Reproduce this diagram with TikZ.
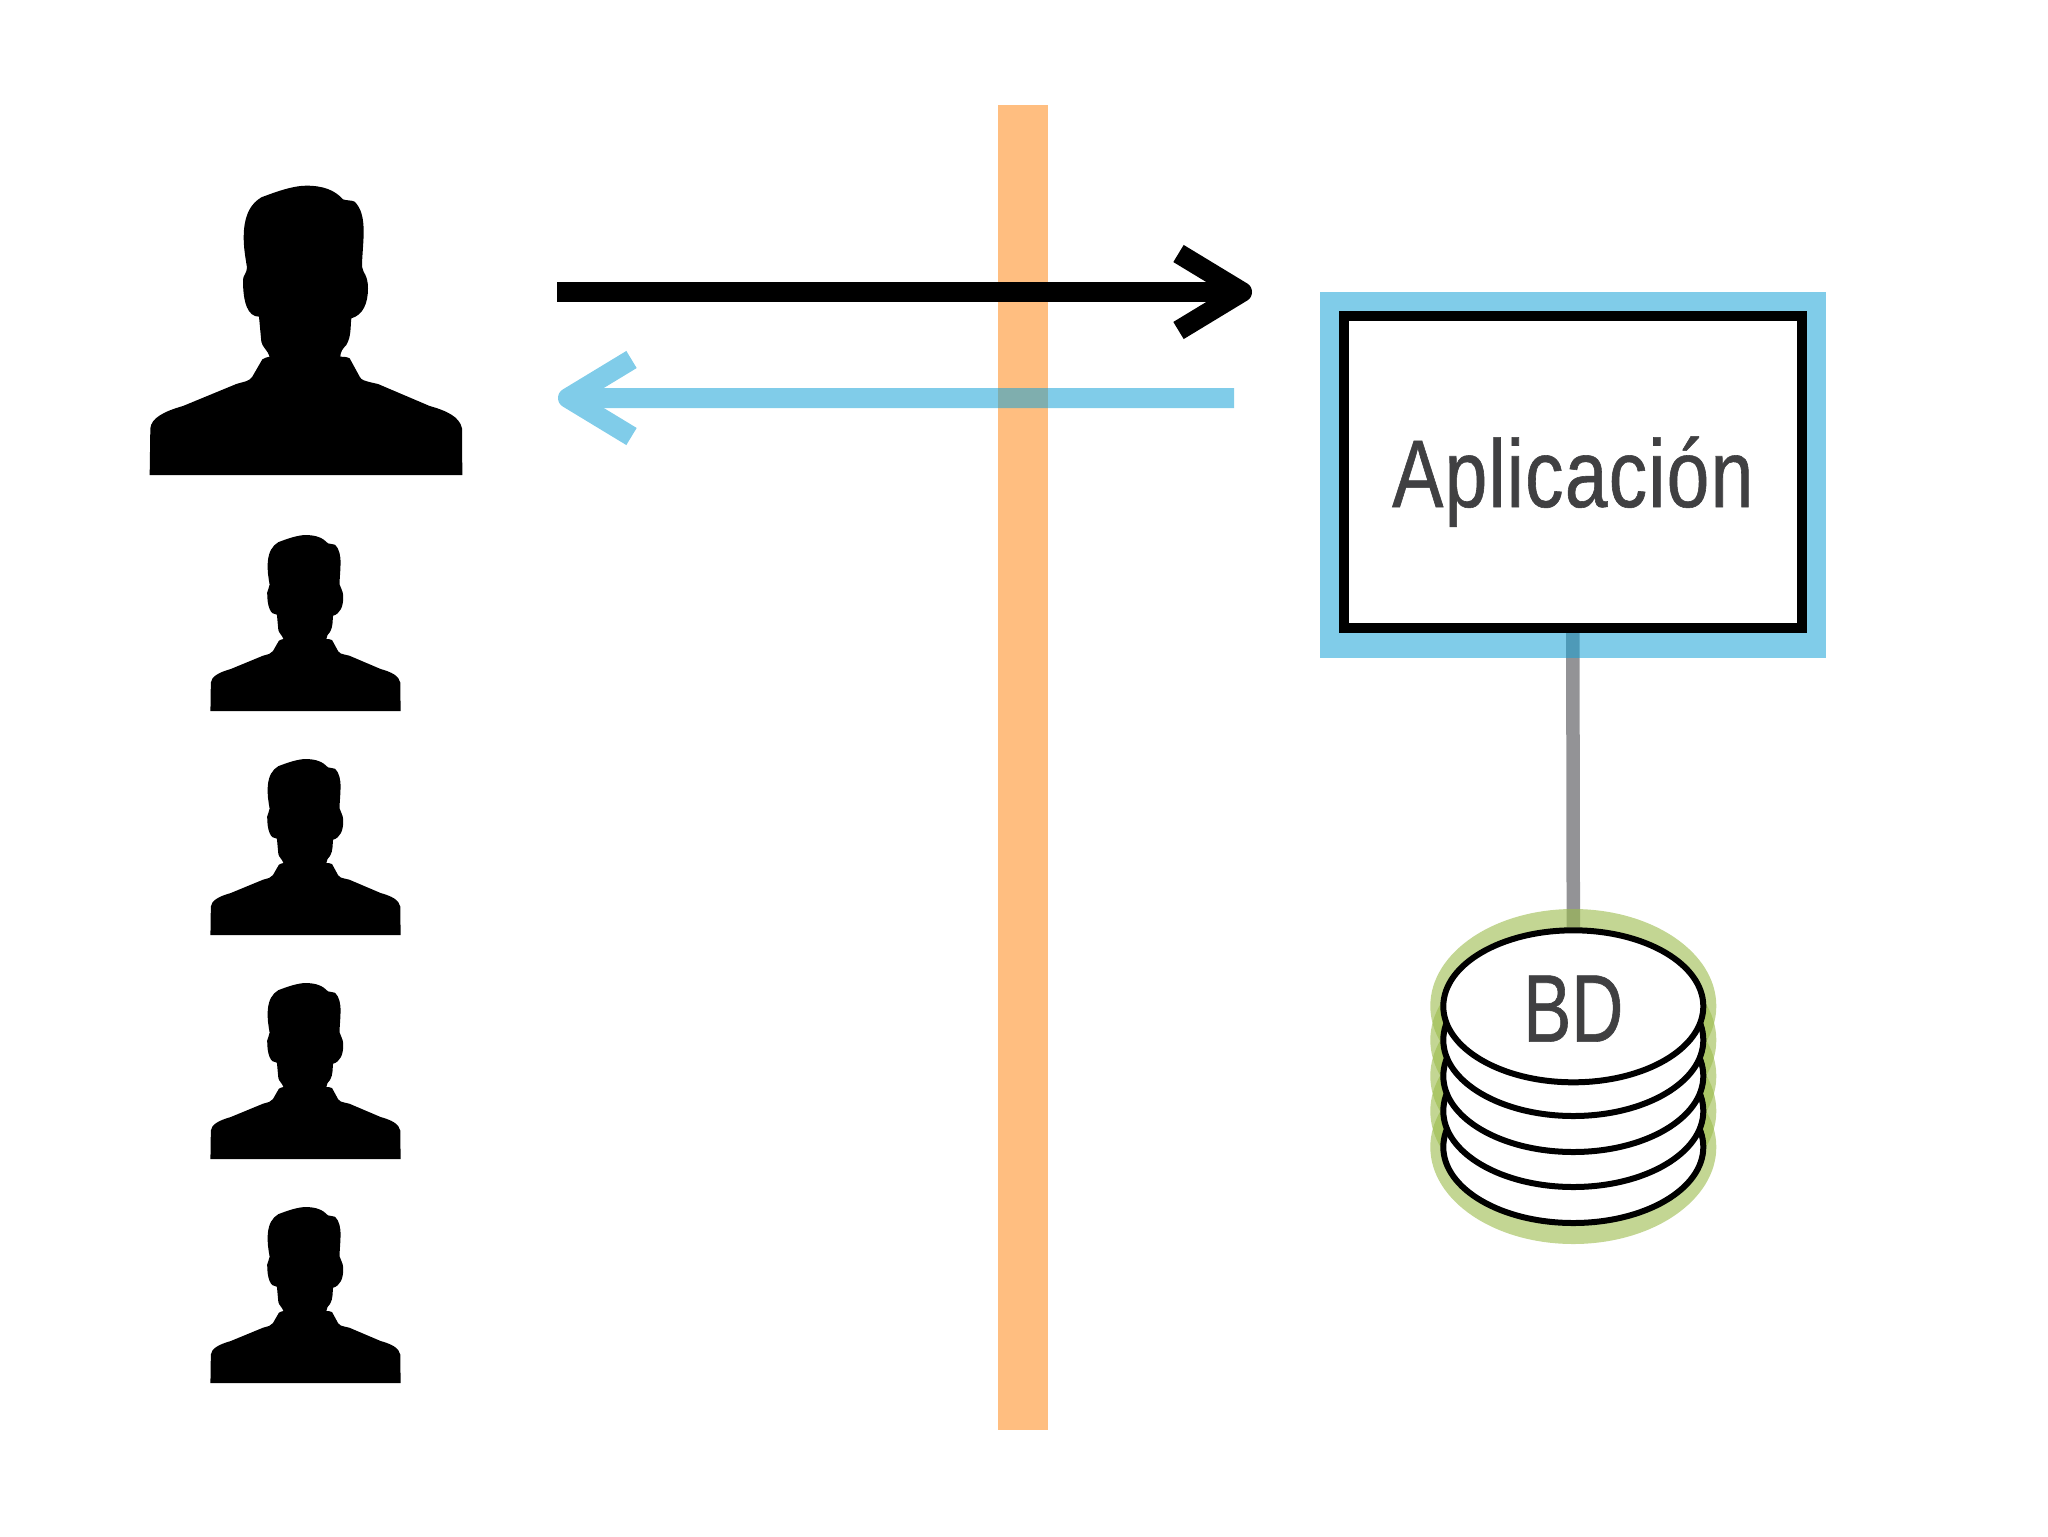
\documentclass[tikz,border=0pt]{standalone}
\usepackage{fontspec}
\usepackage{tikz}
\usetikzlibrary{arrows.meta,backgrounds,shapes.geometric}
\newfontfamily\labelfont[FakeStretch=0.80, FakeBold=0.6, LetterSpace=1.3]{Liberation Sans}
\newfontfamily\diskfont[FakeStretch=0.75, FakeBold=0.6]{Liberation Sans}
\definecolor{barorange}{HTML}{FFBE80}
\definecolor{glowblue}{HTML}{14A1D6}
\definecolor{glowgreen}{HTML}{9BBB4B}
\definecolor{linkgray}{HTML}{939396}
\definecolor{labelgray}{HTML}{404042}
\tikzset{
    person/.pic = {
        \fill[black, shift={(-529,-945)}] (60,945) -- (62,805)
            .. controls (65,775) and (100,755) .. (160,738) -- (320,672)
            .. controls (345,664) and (358,665) .. (368,650) -- (398,598)
            .. controls (402,594) and (412,592) .. (420,590)
            .. controls (415,572) and (397,560) .. (395,545) -- (388,470)
            .. controls (355,470) and (340,430) .. (340,360)
            .. controls (340,345) and (352,340) .. (352,322)
            .. controls (345,280) and (340,250) .. (343,210)
            .. controls (347,160) and (365,130) .. (395,112)
            .. controls (440,95) and (490,77) .. (530,77)
            .. controls (580,77) and (615,90) .. (640,118)
            .. controls (650,122) and (665,120) .. (675,125)
            .. controls (695,145) and (702,175) .. (702,215)
            .. controls (702,250) and (697,290) .. (697,320)
            .. controls (700,340) and (715,345) .. (715,385)
            .. controls (715,430) and (700,465) .. (665,475)
            .. controls (662,500) and (665,530) .. (650,555)
            .. controls (640,565) and (632,575) .. (632,590)
            .. controls (640,590) and (650,590) .. (660,595) -- (690,650)
            .. controls (695,660) and (700,662) .. (745,672) -- (900,738)
            .. controls (950,752) and (990,770) .. (997,805)
            -- (998,945) -- cycle;
    }
}
\begin{document}
\begin{tikzpicture}[x=0.5pt, y=-0.5pt,
            every node/.style = {align=center, inner sep=0pt, font=\labelfont\fontsize{48pt}{48pt}\selectfont,
                                 text=labelgray, text height=35.3pt, text depth=0pt},
            bar/.style = {rectangle, fill=barorange, minimum width=25pt, minimum height=662.5pt},
            glow/.style = {rectangle, fill=glowblue, opacity=0.54, minimum width=253pt, minimum height=182.7pt},
            box/.style = {rectangle, draw=black, fill=white, line width=5pt, minimum width=229pt, minimum height=156pt},
            halo/.style = {ellipse, fill=glowgreen, opacity=0.6, minimum width=143pt, minimum height=97pt},
            disk/.style = {ellipse, draw=black, fill=white, line width=3pt, minimum width=130pt, minimum height=76pt},
            link/.style = {draw=linkgray, line width=6.75pt},
            flow/.style = {line width=10pt, -{Straight Barb[length=31.75pt, width=38.5pt, line join=round, line cap=butt]}}]
    \useasboundingbox (0,0) rectangle (2048,1536);
    \node[bar] (barrier) at (1022.5,767.5) {};
    \pic at (306,475) [scale=1/3] {person};
    \foreach \y in {711,935,1159,1383}
        \pic at (305.5,\y) [scale=0.2027] {person};
    \node[box] (app) at (1572.8,471.7) {Aplicación};
    \foreach \i/\y in {4/1147,3/1111,2/1076,1/1040}
        \node[disk] (disk\i) at (1573.3,\y) {};
    \node[disk, font=\diskfont\fontsize{48pt}{48pt}\selectfont] (bd) at (1573.3,1006.3) {BD};
    \begin{scope}[on background layer]
        \draw[link] (app.south) -- (bd.north);
        \node[glow] (appglow) at (1573,475) {};
        \foreach \i/\y in {4/1147,3/1111,2/1076,1/1040,0/1006}
            \node[halo] (halo\i) at (1573.3,\y) {};
    \end{scope}
    \coordinate (reqstart) at (557,292);
    \coordinate (reqend) at (1252,292);
    \coordinate (respstart) at (1234,398);
    \coordinate (respend) at (558,398);
    \draw[flow, black] (reqstart) -- (reqend);
    \begin{scope}[transparency group, opacity=0.54]
        \draw[flow, glowblue] (respstart) -- (respend);
    \end{scope}
\end{tikzpicture}
\end{document}
